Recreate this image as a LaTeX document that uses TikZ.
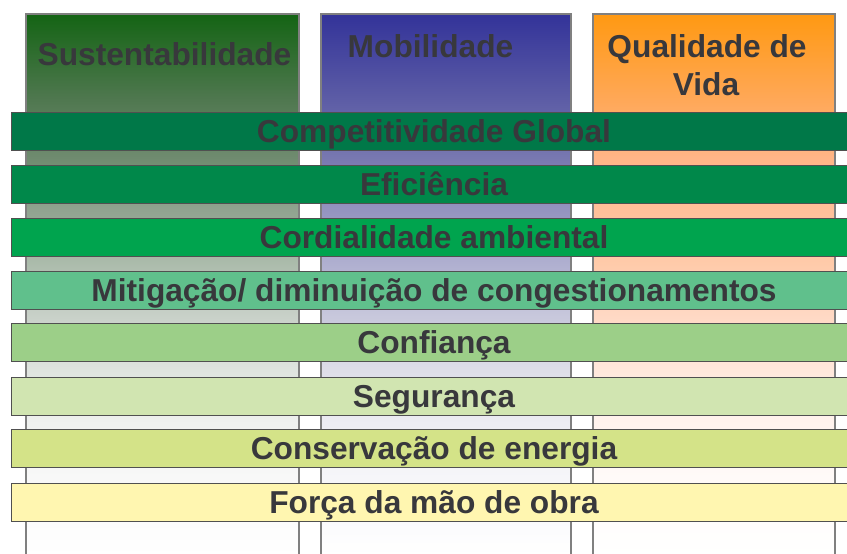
\documentclass[tikz,border=0pt]{standalone}
\usepackage{fontspec}
\setmainfont{Liberation Sans}
\definecolor{txt}{HTML}{38383C}
\definecolor{colline}{HTML}{808080}
\definecolor{barline}{HTML}{505050}
% bars
\definecolor{b1}{HTML}{007848}
\definecolor{b2}{HTML}{00884A}
\definecolor{b3}{HTML}{00A44E}
\definecolor{b4}{HTML}{60C08C}
\definecolor{b5}{HTML}{9CCF88}
\definecolor{b6}{HTML}{D1E5B1}
\definecolor{b7}{HTML}{D4E388}
\definecolor{b8}{HTML}{FFF6B0}
% column 1
\definecolor{ga0}{HTML}{146414}
\definecolor{ga1}{HTML}{507850}
\definecolor{ga2}{HTML}{6F8B6F}
\definecolor{ga3}{HTML}{90A490}
\definecolor{ga4}{HTML}{ACBCAC}
\definecolor{ga5}{HTML}{C9D1C9}
\definecolor{ga6}{HTML}{DFE4DF}
\definecolor{ga7}{HTML}{EFF1EF}
\definecolor{ga8}{HTML}{F8F8F8}
% column 2
\definecolor{gb0}{HTML}{333399}
\definecolor{gb1}{HTML}{5D5DA6}
\definecolor{gb2}{HTML}{7878B0}
\definecolor{gb3}{HTML}{9494C0}
\definecolor{gb4}{HTML}{B0B0D0}
\definecolor{gb5}{HTML}{C8C8DC}
\definecolor{gb6}{HTML}{DEDEE8}
\definecolor{gb7}{HTML}{ECECF2}
\definecolor{gb8}{HTML}{F6F6F9}
% column 3
\definecolor{gc0}{HTML}{FF9912}
\definecolor{gc1}{HTML}{FFA858}
\definecolor{gc2}{HTML}{FFB587}
\definecolor{gc3}{HTML}{FFC09A}
\definecolor{gc4}{HTML}{FFCBAA}
\definecolor{gc5}{HTML}{FFD9C5}
\definecolor{gc6}{HTML}{FFE8DC}
\definecolor{gc7}{HTML}{FFF3EE}
\definecolor{gc8}{HTML}{FFFAF8}
\pgfdeclareverticalshading{colA}{100bp}{color(0bp)=(white); color(25bp)=(white); color(32.31bp)=(ga8); color(37.22bp)=(ga7); color(42.13bp)=(ga6); color(47.04bp)=(ga5); color(51.94bp)=(ga4); color(56.85bp)=(ga3); color(61.76bp)=(ga2); color(67.04bp)=(ga1); color(75bp)=(ga0); color(100bp)=(ga0)}
\pgfdeclareverticalshading{colB}{100bp}{color(0bp)=(white); color(25bp)=(white); color(32.31bp)=(gb8); color(37.22bp)=(gb7); color(42.13bp)=(gb6); color(47.04bp)=(gb5); color(51.94bp)=(gb4); color(56.85bp)=(gb3); color(61.76bp)=(gb2); color(67.04bp)=(gb1); color(75bp)=(gb0); color(100bp)=(gb0)}
\pgfdeclareverticalshading{colC}{100bp}{color(0bp)=(white); color(25bp)=(white); color(32.31bp)=(gc8); color(37.22bp)=(gc7); color(42.13bp)=(gc6); color(47.04bp)=(gc5); color(51.94bp)=(gc4); color(56.85bp)=(gc3); color(61.76bp)=(gc2); color(67.04bp)=(gc1); color(75bp)=(gc0); color(100bp)=(gc0)}
\begin{document}
\begin{tikzpicture}[x=1pt,y=-1pt,
  bigtext/.style={font=\fontsize{31.7}{38}\selectfont\bfseries, text=txt},
  coltitle/.style={bigtext, anchor=base, inner sep=0pt},
  colshape/.style={draw=colline, line width=1.2pt},
  bar/.style={bigtext, draw=barline, line width=1pt, minimum width=846pt,
    minimum height=38pt, inner sep=0pt, text height=22.7pt, text depth=0pt}]
\useasboundingbox (0,0) rectangle (847,554);
\fill[white] (0,0) rectangle (847,554);
% columns
\shade[shading=colA, colshape] (26,556) -- (26,14) -- (299,14) -- (299,556);
\shade[shading=colB, colshape] (321,556) -- (321,14) -- (571,14) -- (571,556);
\shade[shading=colC, colshape] (593,556) -- (593,14) -- (835,14) -- (835,556);
% column titles
\node[coltitle] (t1) at (164.5,65) {Sustentabilidade};
\node[coltitle] (t2) at (430.5,57) {Mobilidade};
\node[coltitle] (t3a) at (707,57) {Qualidade de};
\node[coltitle] (t3b) at (706,95) {Vida};
% bars
\node[bar, fill=b1] (r1) at (434,131) {Competitividade Global};
\node[bar, fill=b2] (r2) at (434,184) {Eficiência};
\node[bar, fill=b3] (r3) at (434,237) {Cordialidade ambiental};
\node[bar, fill=b4] (r4) at (434,290) {Mitigação/ diminuição de congestionamentos};
\node[bar, fill=b5] (r5) at (434,342.5) {Confiança};
\node[bar, fill=b6] (r6) at (434,396) {Segurança};
\node[bar, fill=b7] (r7) at (434,448.5) {Conservação de energia};
\node[bar, fill=b8] (r8) at (434,502) {Força da mão de obra};
\end{tikzpicture}
\end{document}
